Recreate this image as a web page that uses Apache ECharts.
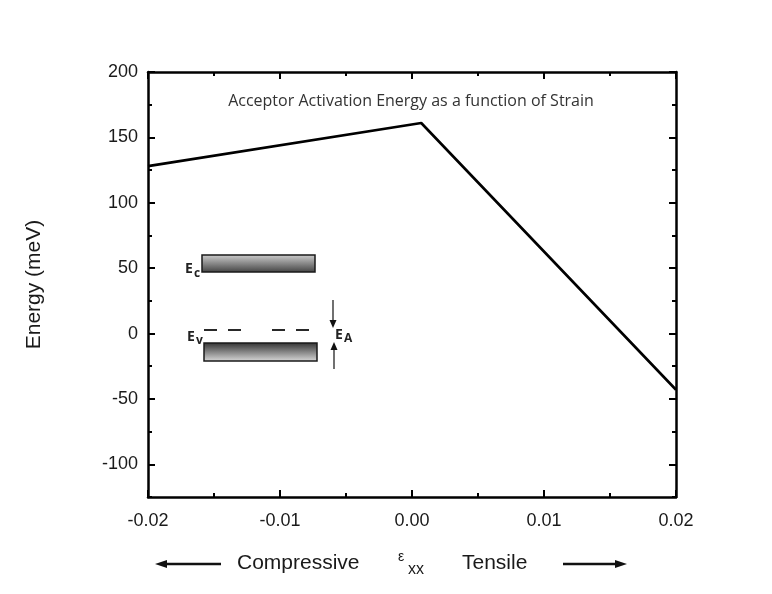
<!DOCTYPE html>
<html><head><meta charset="utf-8">
<script src="https://cdn.jsdelivr.net/npm/echarts@6/dist/echarts.min.js"></script>
<style>html,body{margin:0;padding:0;background:#fff}#c{width:772px;height:594px}</style>
</head><body><div id="c"></div>
<script>
// Data
var strain = [-0.02, 0.0007, 0.02];
var energy = [128, 161, -43];
var xMajorTicks = [-0.02, -0.01, 0, 0.01, 0.02];
var xMinorTicks = [-0.015, -0.005, 0.005, 0.015];
var yMajorTicks = [-100, -50, 0, 50, 100, 150, 200];
var yMinorTicks = [-125, -75, -25, 25, 75, 125, 175];
var titleText = 'Acceptor Activation Energy as a function of Strain';

var chart = echarts.init(document.getElementById('c'), null, {renderer: 'canvas'});
var axisFont = {fontFamily: 'Liberation Sans, Arial, sans-serif', fontSize: 18, color: '#1a1a1a'};
var lineStyle = {color: '#000', width: 2.5};

function xAxisDef(pos, ticks, len, showLabel, showLine) {
  return {
    type: 'value', position: pos, min: -0.02, max: 0.02,
    axisLine: {show: showLine, onZero: false, lineStyle: lineStyle},
    axisTick: {show: true, inside: true, length: len, customValues: ticks, lineStyle: {color: '#000', width: 2}},
    axisLabel: {show: showLabel, customValues: xMajorTicks, margin: 15,
      formatter: function (v) { return (Math.abs(v) < 1e-9 ? 0 : v).toFixed(2); },
      fontFamily: axisFont.fontFamily, fontSize: axisFont.fontSize, color: axisFont.color},
    splitLine: {show: false}
  };
}
function yAxisDef(pos, ticks, len, showLabel, showLine) {
  return {
    type: 'value', position: pos, min: -125, max: 200,
    axisLine: {show: showLine, onZero: false, lineStyle: lineStyle},
    axisTick: {show: true, inside: true, length: len, customValues: ticks, lineStyle: {color: '#000', width: 2}},
    axisLabel: {show: showLabel, customValues: yMajorTicks, margin: 10,
      fontFamily: axisFont.fontFamily, fontSize: axisFont.fontSize, color: axisFont.color},
    splitLine: {show: false}
  };
}

var option = {
  backgroundColor: '#fff',
  animation: false,
  title: {
    text: titleText, left: 406, top: 88, textAlign: 'center',
    textStyle: {fontFamily: 'Open Sans, sans-serif', fontSize: 16, fontWeight: 'normal', color: '#333'}
  },
  grid: {left: 148, right: 96, top: 72, bottom: 97},
  xAxis: [
    xAxisDef('bottom', xMajorTicks, 7, true, true),
    xAxisDef('bottom', xMinorTicks, 4, false, false),
    xAxisDef('top', xMajorTicks, 7, false, true),
    xAxisDef('top', xMinorTicks, 4, false, false)
  ],
  yAxis: [
    Object.assign(yAxisDef('left', yMajorTicks, 7, true, true), {
      name: 'Energy (meV)', nameLocation: 'middle', nameGap: 103, nameRotate: 90,
      nameTextStyle: {fontFamily: 'Liberation Sans, Arial, sans-serif', fontSize: 21, color: '#1a1a1a'}
    }),
    yAxisDef('left', yMinorTicks, 4, false, false),
    yAxisDef('right', yMajorTicks, 7, false, true),
    yAxisDef('right', yMinorTicks, 4, false, false)
  ],
  series: [{
    type: 'line', xAxisIndex: 0, yAxisIndex: 0,
    data: strain.map(function (x, i) { return [x, energy[i]]; }),
    showSymbol: false, symbol: 'none',
    lineStyle: {color: '#000', width: 2.6}, z: 5
  }],
  graphic: [
    // Inset band diagram
    {type: 'rect', shape: {x: 202, y: 255, width: 113, height: 17},
      style: {fill: new echarts.graphic.LinearGradient(0, 0, 0, 1, [{offset: 0, color: '#d0d0d0'}, {offset: 1, color: '#404040'}]), stroke: '#1a1a1a', lineWidth: 1.5}},
    {type: 'rect', shape: {x: 204, y: 343, width: 113, height: 18},
      style: {fill: new echarts.graphic.LinearGradient(0, 0, 0, 1, [{offset: 0, color: '#303030'}, {offset: 1, color: '#dcdcdc'}]), stroke: '#1a1a1a', lineWidth: 1.5}},
    {type: 'text', x: 185, y: 262, style: {text: 'E', font: 'bold 14px Open Sans, sans-serif', fill: '#222'}},
    {type: 'text', x: 194, y: 268, style: {text: 'c', font: 'bold 12px Open Sans, sans-serif', fill: '#222'}},
    {type: 'text', x: 187, y: 330, style: {text: 'E', font: 'bold 14px Open Sans, sans-serif', fill: '#222'}},
    {type: 'text', x: 196, y: 335, style: {text: 'v', font: 'bold 12px Open Sans, sans-serif', fill: '#222'}},
    {type: 'text', x: 335, y: 328, style: {text: 'E', font: 'bold 14px Open Sans, sans-serif', fill: '#222'}},
    {type: 'text', x: 344, y: 333, style: {text: 'A', font: 'bold 12px Open Sans, sans-serif', fill: '#222'}},
    {type: 'line', shape: {x1: 204, y1: 330, x2: 217, y2: 330}, style: {stroke: '#111', lineWidth: 1.8}},
    {type: 'line', shape: {x1: 228, y1: 330, x2: 241, y2: 330}, style: {stroke: '#111', lineWidth: 1.8}},
    {type: 'line', shape: {x1: 272, y1: 330, x2: 285, y2: 330}, style: {stroke: '#111', lineWidth: 1.8}},
    {type: 'line', shape: {x1: 296, y1: 330, x2: 309, y2: 330}, style: {stroke: '#111', lineWidth: 1.8}},
    {type: 'line', shape: {x1: 333, y1: 300, x2: 333, y2: 322}, style: {stroke: '#111', lineWidth: 1.2}},
    {type: 'polygon', shape: {points: [[329.5, 320], [336.5, 320], [333, 328]]}, style: {fill: '#111'}},
    {type: 'line', shape: {x1: 334, y1: 349, x2: 334, y2: 369}, style: {stroke: '#111', lineWidth: 1.2}},
    {type: 'polygon', shape: {points: [[330.5, 350], [337.5, 350], [334, 342]]}, style: {fill: '#111'}},
    // Bottom label with arrows
    {type: 'line', shape: {x1: 163, y1: 564, x2: 221, y2: 564}, style: {stroke: '#111', lineWidth: 2.5}},
    {type: 'polygon', shape: {points: [[155, 564], [167, 560], [167, 568]]}, style: {fill: '#111'}},
    {type: 'line', shape: {x1: 563, y1: 564, x2: 618, y2: 564}, style: {stroke: '#111', lineWidth: 2.5}},
    {type: 'polygon', shape: {points: [[627, 564], [615, 560], [615, 568]]}, style: {fill: '#111'}},
    {type: 'text', x: 237, y: 563, style: {text: 'Compressive', font: '21px Liberation Sans, Arial, sans-serif', fill: '#1a1a1a', textVerticalAlign: 'middle'}},
    {type: 'text', x: 398, y: 557, style: {text: '\u03b5', font: '14px Liberation Sans, Arial, sans-serif', fill: '#1a1a1a', textVerticalAlign: 'middle'}},
    {type: 'text', x: 408, y: 570, style: {text: 'xx', font: '16px Liberation Sans, Arial, sans-serif', fill: '#1a1a1a', textVerticalAlign: 'middle'}},
    {type: 'text', x: 462, y: 563, style: {text: 'Tensile', font: '21px Liberation Sans, Arial, sans-serif', fill: '#1a1a1a', textVerticalAlign: 'middle'}}
  ]
};
chart.setOption(option);
</script>
</body></html>
